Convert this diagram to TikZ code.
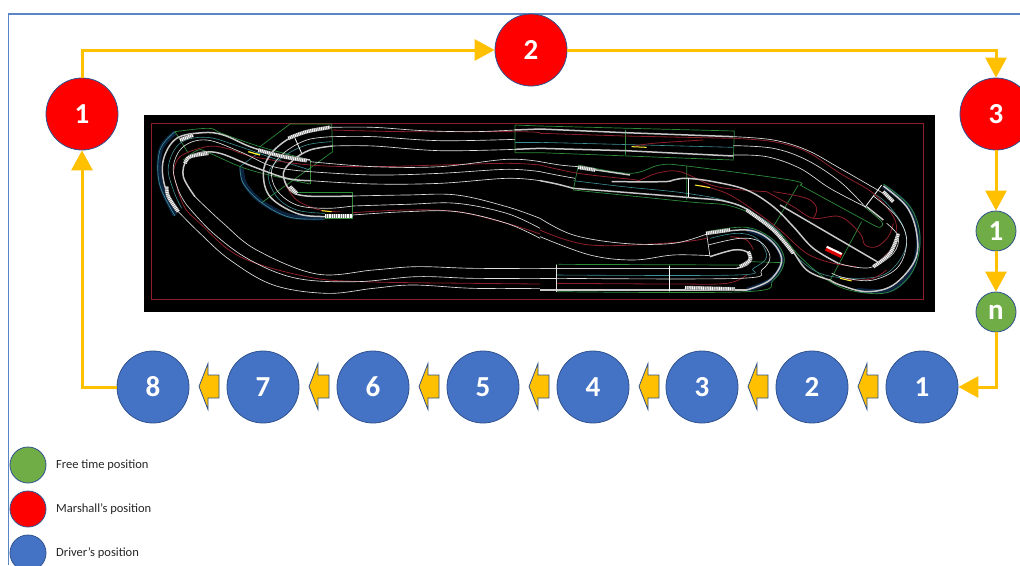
\documentclass[tikz,border=0pt]{standalone}
\usepackage{fontspec}
\setmainfont{Carlito}
\usetikzlibrary{arrows.meta}
\definecolor{amber}{HTML}{FFC000}
\definecolor{edgeblue}{HTML}{2F528F}
\definecolor{frameblue}{HTML}{5B86C6}
\definecolor{drv}{HTML}{4472C4}
\definecolor{fre}{HTML}{70AD47}
\definecolor{trkred}{HTML}{8E1F2A}
\definecolor{trkgreen}{HTML}{2E8B3A}
\definecolor{trkteal}{HTML}{3F8F96}
\definecolor{trknavy}{HTML}{0C2340}
\definecolor{trkgrey}{HTML}{C8C8C8}
\tikzset{
  disc/.style={circle,draw=edgeblue,line width=.8pt,inner sep=0pt,text=white,font=\bfseries\fontsize{29}{29}\selectfont,minimum size=72pt},
  small disc/.style={disc,fill=fre,minimum size=40pt},
  key disc/.style={circle,draw=edgeblue,line width=.8pt,inner sep=0pt,minimum size=36pt},
  key text/.style={anchor=west,inner sep=0pt,text=black!85,font=\fontsize{12.5}{14}\selectfont},
  flow/.style={draw=amber,line width=3pt,-{Triangle[width=21pt,length=20pt]}},
  flat/.style={draw=amber,line width=3pt},
  block arrow/.style={fill=amber,draw=edgeblue,line width=.8pt,line join=miter},
  tw/.style={draw=white!88!black,line width=.65pt},
  tg/.style={draw=trkgrey,line width=1.5pt},
  tr/.style={draw=trkred,line width=.8pt},
  tt/.style={draw=trkteal,line width=.6pt},
  tn/.style={draw=trkgreen,line width=.7pt},
  nv/.style={draw=trknavy,line width=4.5pt},
  kerbstyle/.style={draw=white,line width=3.2pt,dash pattern=on .9pt off .9pt},
  kerbback/.style={draw=gray,line width=3.8pt},
}
\newcommand{\crv}[2]{\draw[#1] plot[smooth,tension=.6] coordinates {#2};}
\newcommand{\krb}[1]{\draw[kerbback] plot[smooth,tension=.6] coordinates {#1};\draw[kerbstyle] plot[smooth,tension=.6] coordinates {#1};}
\begin{document}
\begin{tikzpicture}[x=1pt,y=-1pt]
\path[use as bounding box,clip] (0,0) rectangle (1020,565);
\fill[white] (0,0) rectangle (1020,565);
% frame
\draw[frameblue,line width=1.5pt] (8.5,565) -- (8.5,14) -- (1020,14);
% track plan
\fill[black] (144,115) rectangle (935,312);
\draw[trkred,line width=.7pt] (151.5,123.5) rectangle (923,299.5);
\begin{scope}[shift={(140,110)},x=.33333pt,y=-.33333pt]
 % navy run-offs
 \crv{nv}{(105,68)(62,120)(62,220)(105,316)}
 \crv{nv}{(305,175)(315,222)(365,276)(450,318)(550,324)}
 % green outlines
 \draw[tn] (360,110)--(450,42)--(575,42)--(578,125)--(530,160)--(365,278);
 \draw[tn] (460,248)--(638,248)--(638,325)--(555,325);
 \crv{tn}{(105,65)(205,55)(245,70)(360,110)(510,150)}
 \draw[tn] (105,65)--(145,130);
 \crv{tn}{(130,150)(175,120)(210,130)(330,180)(510,222)}
 \draw[tn] (510,150)--(510,222);
 \draw[tt] (360,125)--(300,170);
 \crv{tt}{(105,65)(60,120)(58,220)(105,318)}
 \crv{tt}{(300,170)(310,220)(365,278)(450,322)(555,327)}
 \draw[tn] (1125,45)--(1200,48) (1125,45)--(1125,128)--(1200,128);
 % teal centre lines
 \crv{tt}{(510,180)(400,145)(300,110)(200,82)(120,100)(85,170)(100,240)(125,295)}
 \crv{tt}{(575,95)(500,105)(430,140)(385,190)(410,260)(470,300)(555,310)}
 \draw[tt] (1125,97)--(1200,97);
 % red lines
 \crv{tr}{(100,190)(120,140)(200,110)(260,115)(340,140)(510,165)(700,170)(900,165)(1100,160)(1200,165)}
 \crv{tr}{(100,190)(130,285)(180,340)(300,440)(500,500)(670,515)(1000,520)(1200,522)}
 \crv{tr}{(575,60)(800,65)(1125,65)(1200,68)}
 \crv{tr}{(638,308)(800,300)(950,305)(1100,340)(1200,372)}
 \crv{tr}{(435,220)(470,270)(540,300)(600,305)}
 % white track edges
 \crv{tg}{(510,150)(400,130)(330,110)(250,75)(190,68)(110,85)(70,150)(75,230)(115,305)}
 \crv{tw}{(510,185)(400,170)(300,125)(200,90)(130,110)(100,170)(115,240)(140,285)}
 \crv{tg}{(510,212)(440,205)(340,170)(240,130)(180,128)(140,150)(130,200)(165,260)}
 \crv{tw}{(115,305)(180,370)(270,450)(400,525)(560,550)(700,535)(820,525)(1000,535)(1200,535)}
 \crv{tw}{(140,285)(220,370)(330,450)(470,505)(650,515)(830,500)(1000,505)(1200,505)}
 \crv{tw}{(165,260)(250,340)(350,420)(530,492)(700,480)(830,470)(1000,475)(1200,475)}
 \crv{tw}{(575,52)(700,52)(850,62)(1000,65)(1125,60)}
 \crv{tw}{(578,80)(700,80)(900,92)(1125,88)}
 \crv{tw}{(578,108)(700,108)(900,122)(1125,118)}
 \draw[tg] (1125,60)--(1200,57) (1125,118)--(1200,115);
 \crv{tw}{(510,155)(700,170)(900,170)(1100,148)(1200,155)}
 \crv{tw}{(510,185)(700,195)(900,190)(1100,178)(1200,185)}
 \crv{tw}{(510,212)(700,222)(900,220)(1100,205)(1200,212)}
 \crv{tg}{(575,52)(500,65)(440,90)(390,135)(370,190)(390,260)(470,310)(555,320)(638,318)}
 \crv{tw}{(578,80)(500,90)(430,130)(395,180)(410,240)(470,285)(560,295)(638,288)}
 \crv{tg}{(578,108)(510,120)(460,150)(430,190)(450,240)(500,258)(638,258)}
 \crv{tw}{(638,258)(800,255)(950,255)(1100,290)(1200,325)}
 \crv{tw}{(638,288)(800,283)(950,280)(1100,310)(1200,355)}
 \crv{tw}{(638,315)(800,305)(950,305)(1100,340)(1200,385)}
 \draw[white,line width=.8pt] (465,85)--(485,130);
 % kerbs
 \krb{(445,85)(500,65)(570,52)}
 \krb{(355,120)(430,140)(500,152)}
 \krb{(80,230)(85,260)(115,305)}
 \krb{(135,160)(150,140)(205,130)}
 \krb{(120,90)(160,75)}
 \krb{(555,318)(635,318)}
 \krb{(450,230)(470,250)}
 \draw[yellow!80!white,line width=1.3pt] (325,125)--(360,135);
 \draw[yellow!80!white,line width=1pt] (545,302)--(575,305);
\end{scope}
\begin{scope}[shift={(540,110)},x=.33333pt,y=-.33333pt]
 % navy run-offs
 \crv{nv}{(1030,228)(1105,290)(1135,380)(1115,480)(1050,540)(950,540)}
 \crv{nv}{(620,540)(695,508)(727,450)(695,392)(620,358)}
 % green outlines
 \draw[tn] (0,48)--(583,63)--(580,150)--(0,128);
 \draw[tn] (255,60)--(255,135);
 \crv{tn}{(115,165)(270,190)(360,165)(440,168)(750,210)(780,225)}
 \draw[tn] (780,225)--(1000,345) ;
 \crv{tn}{(1000,345)(1020,352)(1025,335)(975,292)}
 \draw[tn] (115,165)--(100,240);
 \crv{tn}{(100,240)(440,275)(580,290)(700,350)(780,440)(870,515)(950,545)(1050,545)(1120,480)(1140,380)(1110,290)(1030,222)}
 \draw[tn] (440,168)--(440,270) (775,225)--(700,350) (965,335)--(870,512);
 \draw[tn] (55,463)--(590,465) .. controls (610,465) and (625,460) .. (630,455)--(730,458);
 \draw[tn] (50,463)--(50,545);
 \crv{tn}{(50,545)(620,545)(700,510)(733,450)(700,390)(620,352)(500,365)}
 \draw[tn] (388,465)--(388,545);
 \draw[white,line width=.8pt] (1025,225)--(975,292);
 % teal lines
 \draw[tt] (0,97)--(580,112);
 \crv{tt}{(100,212)(250,230)(440,250)(580,280)(700,350)(760,430)(840,490)(950,505)(1040,490)(1095,420)(1090,350)(1040,280)(1000,250)}
 \crv{tt}{(50,495)(590,495)(640,475)(680,440)(650,385)(590,370)(510,385)}
 % red lines
 \draw[tr] (0,70)--(255,78)--(580,85);
 \crv{tr}{(580,85)(700,95)(800,125)(900,190)(1000,250)(1060,320)(1070,370)(1060,410)(1000,470)}
 \crv{tr}{(275,110)(340,100)(490,90)}
 \crv{tr}{(0,165)(115,190)(275,208)(300,210)(350,190)(420,185)(530,230)(680,245)}
 \crv{tr}{(680,245)(760,290)(820,325)(900,320)(960,370)(975,405)(1010,410)(1045,380)(1060,340)}
 \crv{tr}{(820,325)(830,295)(800,265)(700,245)}
 \crv{tr}{(480,225)(560,250)(640,300)(720,360)(800,430)(880,460)(950,470)}
 \crv{tr}{(900,505)(950,510)(1000,505)(1040,480)}
 \crv{tr}{(50,520)(400,522)(560,520)(620,495)}
 \crv{tr}{(570,380)(620,390)(640,420)}
 \crv{tr}{(0,360)(150,405)(400,398)(500,385)}
 % white edges
 \draw[tg] (0,57)--(255,68)--(580,80) (0,115)--(255,122)--(580,138);
 \crv{tw}{(580,80)(700,90)(800,120)(900,175)(1030,250)}
 \crv{tw}{(580,107)(700,115)(800,150)(900,215)(975,290)}
 \crv{tw}{(580,135)(680,140)(780,175)(870,235)(975,290)}
 \crv{tg}{(1030,228)(1100,290)(1130,370)(1125,450)(1060,525)(980,545)(900,525)(870,510)}
 \crv{tw}{(1000,258)(1070,320)(1100,390)(1075,470)(1000,510)(920,505)(875,490)}
 \draw[tg] (980,290)--(1030,330);
 \crv{tw}{(1040,340)(1075,380)(1060,430)(1000,470)(950,472)(895,460)}
 \crv{tg}{(870,510)(800,480)(740,400)(640,310)(560,275)(440,262)(100,235)}
 \draw[tg] (720,285)--(1020,460);
 \crv{tg}{(895,460)(820,415)(760,350)(700,290)(620,240)(520,215)(440,205)(400,210)(370,215)(215,215)}
 \crv{tg}{(115,172)(270,195)}
 \crv{tw}{(115,170)(60,165)(0,155)}
 \crv{tw}{(105,205)(50,195)(0,185)}
 \crv{tg}{(100,235)(50,222)(0,212)}
 \draw[tg] (50,475)--(590,475) (50,540)--(620,540);
 \crv{tg}{(590,475)(620,465)(635,445)(620,425)(580,420)(510,440)}
 \crv{tg}{(620,540)(690,510)(725,450)(690,390)(620,360)(500,372)}
 \crv{tw}{(50,505)(600,505)(665,480)(690,440)(660,395)(600,385)(505,405)}
 \draw[tg] (0,475)--(50,475) (0,540)--(50,540);
 \draw[tw] (0,505)--(50,505) (50,465)--(50,545);
 \draw[tw] (500,372)--(510,440);
 \crv{tw}{(500,372)(400,400)(250,400)(100,375)(0,325)}
 \crv{tw}{(510,437)(400,435)(280,450)(150,435)(0,380)}
 \draw[white,line width=.8pt] (445,205)--(445,262);
 \draw[white,line width=.8pt] (388,468)--(388,543);
 % kerbs
 \krb{(115,172)(165,180)}
 \krb{(435,533)(585,537)}
 \krb{(498,370)(570,360)}
 \krb{(620,300)(700,360)(760,430)}
 \krb{(1000,470)(1050,430)(1075,370)}
 \krb{(1030,245)(1060,275)}
 \krb{(600,470)(630,450)(625,425)}
 % car
 \draw[red!85!black,line width=5pt] (858,415)--(905,437);
 \draw[white,line width=2pt] (860,410)--(905,432);
 \draw[yellow!80!white,line width=1pt] (275,110)--(320,112) (465,225)--(510,233) (900,505)--(935,513);
\end{scope}
% marshal nodes
\node[disc,fill=red] (r1) at (82,114) {1};
\node[disc,fill=red] (r2) at (531,50) {2};
\node[disc,fill=red] (r3) at (996,114) {3};
% free nodes
\node[small disc] (f1) at (996,231) {1};
\node[small disc] (fn) at (996,312) {n};
% driver nodes
\foreach \nm/\px in {8/153,7/263,6/373,5/483,4/593,3/702,2/812,1/922}
  \node[disc,fill=drv] (d\nm) at (\px,387) {\nm};
% small block arrows
\foreach \px in {199,309,419,529,639,748,858}
  \draw[block arrow] (\px,386.5) -- ++(9,-23) -- ++(0,11.5) -- ++(11,0) -- ++(0,23) -- ++(-11,0) -- ++(0,11.5) -- cycle;
% connectors
\draw[flow] (r1.north) |- (r2.west);
\draw[flow] (r2.east) -| (r3.north);
\draw[flow] (r3.south) -- (f1.north);
\draw[flow] (f1.south) -- (fn.north);
\draw[flow] (fn.south) |- (d1.east);
\draw[flow] (d8.west) -| (r1.south);
% key
\node[key disc,fill=fre] (k1) at (28,465) {};
\node[key disc,fill=red] (k2) at (28,509) {};
\node[key disc,fill=drv] (k3) at (28,553) {};
\node[key text] (t1) at (56,465) {Free time position};
\node[key text] (t2) at (56,509) {Marshall’s position};
\node[key text] (t3) at (56,553) {Driver’s position};
\end{tikzpicture}
\end{document}
